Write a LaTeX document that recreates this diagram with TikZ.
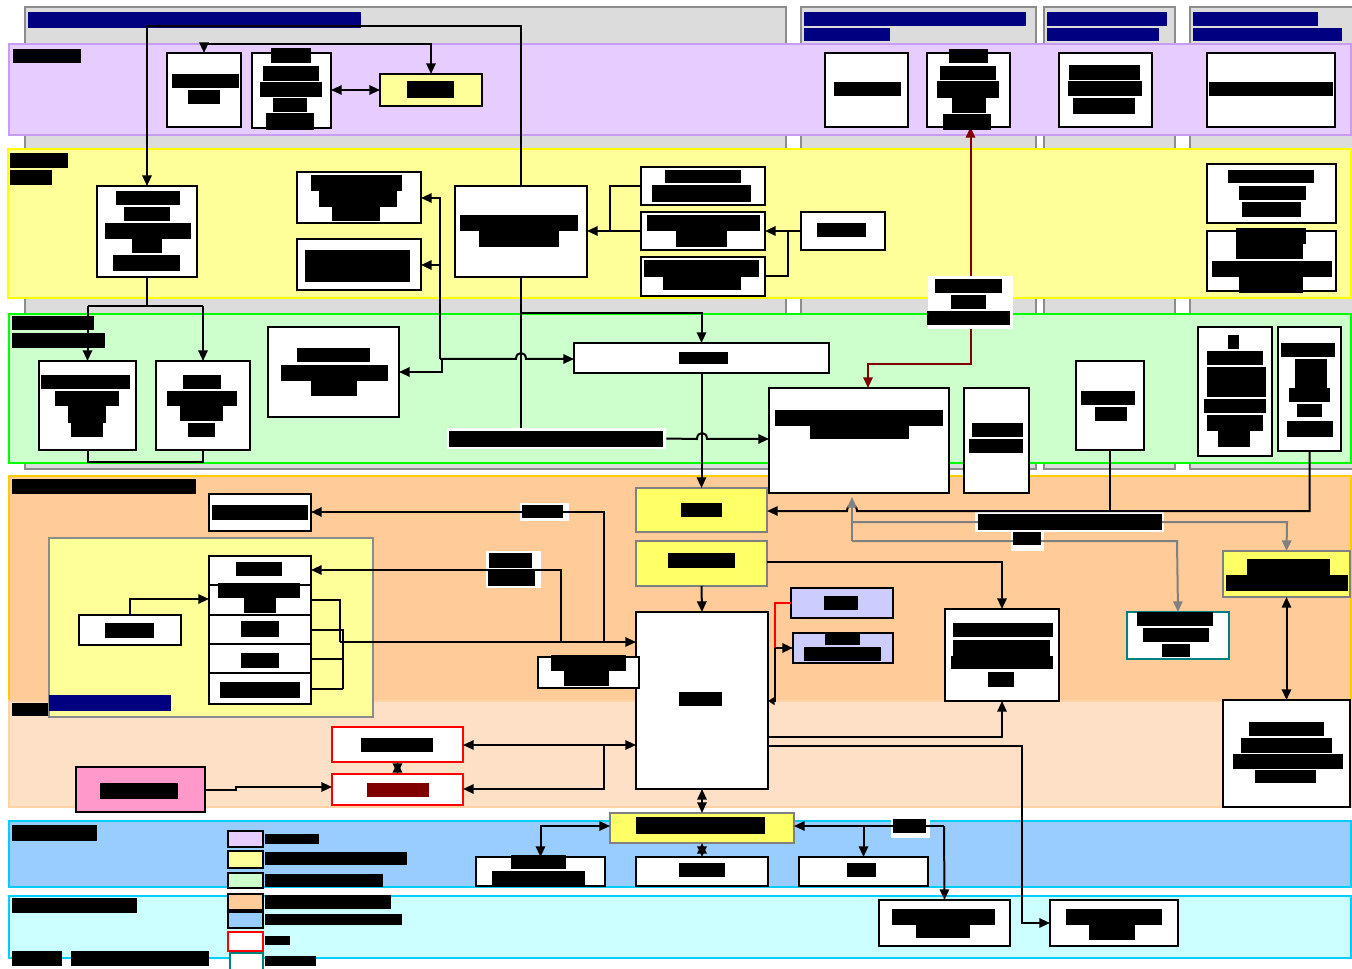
\documentclass[tikz,border=0pt]{standalone}
\usetikzlibrary{arrows.meta,fit}
\definecolor{navyc}{HTML}{000080}
\definecolor{colfill}{HTML}{DCDCDC}
\definecolor{colline}{HTML}{8C8C8C}
\definecolor{pfill}{HTML}{E6CCFF}
\definecolor{pline}{HTML}{C89BF5}
\definecolor{yfill}{HTML}{FFFF99}
\definecolor{yline}{HTML}{FFFF00}
\definecolor{gfill}{HTML}{CCFFCC}
\definecolor{gline}{HTML}{00FF00}
\definecolor{ofill}{HTML}{FFCC99}
\definecolor{oline}{HTML}{FFCC00}
\definecolor{pefill}{HTML}{FDE0C5}
\definecolor{peline}{HTML}{FFD2A6}
\definecolor{bfill}{HTML}{99CCFF}
\definecolor{bline}{HTML}{00CCFF}
\definecolor{cfill}{HTML}{CCFFFF}
\definecolor{ybox}{HTML}{FFFF66}
\definecolor{lav}{HTML}{CCCCFF}
\definecolor{pinkc}{HTML}{FF99CC}
\definecolor{dred}{HTML}{800000}
\definecolor{tealc}{HTML}{008080}
\definecolor{gconnc}{HTML}{808080}
\newcommand{\blk}[4]{\fill[black] (#1,#2) rectangle (#3,#4);}
\newcommand{\nvy}[4]{\fill[navyc] (#1,#2) rectangle (#3,#4);}
\newcommand{\bx}[6][]{\node[box,#1,fit={(#3,#4) (#5,#6)}] (#2) {};}
\tikzset{
 box/.style={draw=black,line width=1.9pt,fill=white,inner sep=0pt,outer sep=0pt},
 ygray/.style={draw=gconnc,fill=ybox},
 lbl/.style={draw=none,fill=white},
 colbox/.style={draw=colline,fill=colfill,line width=1.5pt},
 lanebox/.style={line width=2pt},
 conn/.style={draw=black,line width=1.5pt},
 gconn/.style={draw=gconnc,line width=1.5pt},
 rconn/.style={draw=dred,line width=1.5pt},
 tip/.style={-{Triangle[length=8pt,width=7pt]}},
 tipb/.style={{Triangle[length=8pt,width=7pt]}-{Triangle[length=8pt,width=7pt]}},
 tips/.style={-{Triangle[length=5pt,width=6pt]}},
 swatch/.style={draw=black,line width=1.8pt},
}
\begin{document}
\begin{tikzpicture}[x=0.75pt,y=-0.75pt]
\useasboundingbox (0,0) rectangle (1352,969);
\fill[white] (0,0) rectangle (1352,969);
% columns
\draw[colbox] (25,7) rectangle (786,469);
\draw[colbox] (801,7) rectangle (1036,469);
\draw[colbox] (1044,7) rectangle (1175,469);
\draw[colbox] (1190,7) rectangle (1362,469);
\nvy{28}{12}{361}{28}
\nvy{804}{12}{1026}{26} \nvy{804}{28}{890}{41}
\nvy{1047}{12}{1167}{26} \nvy{1047}{28}{1159}{41}
\nvy{1193}{12}{1318}{26} \nvy{1193}{28}{1342}{41}
% lanes
\draw[lanebox,draw=pline,fill=pfill] (9,44) rectangle (1351,135);
\draw[lanebox,draw=yline,fill=yfill] (8,149) rectangle (1351,298);
\draw[lanebox,draw=gline,fill=gfill] (9,314) rectangle (1351,463);
\draw[lanebox,draw=oline,fill=ofill] (9,476) rectangle (1351,701);
\draw[lanebox,draw=peline,fill=pefill] (9,701) rectangle (1351,807);
\draw[lanebox,draw=bline,fill=bfill] (9,821) rectangle (1351,887);
\draw[lanebox,draw=bline,fill=cfill] (9,896) rectangle (1351,958);
% lane labels
\blk{13}{49}{81}{63}
\blk{10}{153}{68}{168} \blk{10}{170}{52}{185}
\blk{12}{316}{94}{330} \blk{12}{333}{105}{348}
\blk{12}{479}{196}{494}
\blk{12}{703}{48}{716}
\blk{12}{825}{97}{841}
\blk{12}{898}{137}{913}
\blk{12}{951}{62}{966} \blk{71}{951}{209}{966}
% group box in orange lane
\draw[draw=colline,fill=yfill,line width=1.5pt] (49,538) rectangle (373,717);
\nvy{49}{695}{171}{711}

% ---------- purple lane nodes
\bx{P1}{167}{53}{241}{127}
\bx{P2}{252}{53}{331}{128}
\bx[fill=yfill]{Y1}{380}{74}{482}{106}
\bx{P3}{825}{53}{908}{127}
\bx{P4}{927}{53}{1010}{127}
\bx{P5}{1059}{53}{1152}{127}
\bx{P6}{1207}{53}{1335}{127}
% ---------- yellow lane nodes
\bx{Y2}{97}{186}{197}{277}
\bx{Y3}{297}{172}{421}{223}
\bx{Y4}{297}{239}{421}{290}
\bx{Y5}{455}{186}{587}{277}
\bx{Y6}{641}{167}{765}{205}
\bx{Y7}{641}{212}{765}{250}
\bx{Y8}{641}{257}{765}{296}
\bx{Y9}{801}{212}{885}{250}
\bx{YR1}{1207}{164}{1336}{223}
\bx{YR2}{1207}{231}{1336}{291}
% ---------- green lane nodes
\bx{G1a}{39}{361}{136}{450}
\bx{G1b}{156}{361}{250}{450}
\bx{G3}{268}{327}{399}{417}
\bx{G2}{574}{343}{829}{373}
\bx{G5}{769}{388}{949}{493}
\bx{G6}{964}{388}{1029}{493}
\bx{G7}{1076}{361}{1144}{450}
\bx{G8}{1198}{327}{1272}{456}
\bx{G9}{1278}{327}{1341}{451}
\node[lbl,inner sep=0pt,fit={(447,428) (666,449)}] (G4) {};
\node[lbl,inner sep=0pt,fit={(928,276) (1013,329)}] (RL) {};
% ---------- orange lane nodes
\bx[ygray]{Or1}{636}{488}{767}{532}
\bx[ygray]{Or2}{636}{541}{767}{586}
\bx{Om}{636}{612}{768}{789}
\bx{O1}{209}{494}{311}{531}
\bx{S1}{209}{556}{311}{585}
\bx{S2}{209}{585}{311}{615}
\bx{S3}{209}{615}{311}{644}
\bx{S4}{209}{644}{311}{673}
\bx{S5}{209}{673}{311}{704}
\bx{O2}{79}{615}{181}{645}
\bx{O3}{538}{657}{639}{688}
\bx[fill=lav]{B1}{791}{588}{893}{618}
\bx[fill=lav]{B2}{793}{633}{893}{663}
\bx{O4}{945}{609}{1059}{701}
\bx[draw=tealc]{T}{1127}{612}{1229}{659}
\bx[ygray]{Y10}{1223}{551}{1350}{597}
\bx{W}{1223}{700}{1350}{807}
\node[lbl,inner sep=0pt,fit={(520,503) (569,521)}] (LA) {};
\node[lbl,inner sep=0pt,fit={(486,551) (541,588)}] (LB) {};
\node[lbl,inner sep=0pt,fit={(975,512) (1164,532)}] (LG1) {};
\node[lbl,inner sep=0pt,fit={(1011,532) (1044,551)}] (LG2) {};
% ---------- peach lane nodes
\bx[draw=red]{R1}{332}{727}{463}{762}
\bx[draw=red]{R2}{332}{774}{463}{805}
\bx[fill=pinkc]{Pk}{76}{767}{205}{812}
% ---------- blue lane nodes
\bx[ygray]{Y11}{610}{813}{794}{843}
\bx{L1}{476}{857}{605}{886}
\bx{L2}{636}{857}{768}{886}
\bx{L3}{799}{857}{928}{886}
\node[lbl,inner sep=0pt,fit={(891,817) (930,838)}] (LC) {};
% ---------- cyan lane nodes
\bx{C1}{879}{900}{1010}{946}
\bx{C2}{1050}{900}{1178}{946}

% ---------- legend
\draw[swatch,fill=pfill] (228,831) rectangle (263,847);
\draw[swatch,fill=yfill] (228,851) rectangle (263,868);
\draw[swatch,fill=gfill] (228,873) rectangle (263,888);
\draw[swatch,fill=ofill] (228,894) rectangle (263,910);
\draw[swatch,fill=bfill] (228,912) rectangle (263,928);
\draw[swatch,draw=red,fill=white] (228,932) rectangle (263,951);
\draw[swatch,draw=tealc,fill=white] (230,953) rectangle (263,972);
\blk{265}{834}{319}{844}
\blk{265}{852}{407}{865}
\blk{265}{874}{383}{887}
\blk{265}{895}{391}{909}
\blk{265}{914}{402}{925}
\blk{265}{936}{290}{945}
\blk{265}{956}{316}{966}

% ---------- connectors
\draw[conn,tip] (Y5.north) -- (Y5.north |- 0,26) -| (Y2.north);
\draw[conn,tipb] (P1.north) -- (P1.north |- 0,44) -| (Y1.north);
\draw[conn,tipb] (P2.east |- 0,90) -- (Y1.west |- 0,90);
\draw[conn] (Y2.south) -- (Y2.south |- 0,306);
\draw[conn] (G1a.north |- 0,306) -- (G1b.north |- 0,306);
\draw[conn,tip] (G1a.north |- 0,306) -- (G1a.north);
\draw[conn,tip] (G1b.north |- 0,306) -- (G1b.north);
\draw[conn] (G1a.south) -- (G1a.south |- 0,462) -- (G1b.south |- 0,462) -- (G1b.south);
\draw[conn] (Y5.south) -- (Y5.south |- G4.north);
\draw[conn,tip] (Y5.south |- 0,313) -| (G2.north);
\coordinate (hub) at (440,359);
\draw[conn,tip] (hub) -- (440,198) -- (Y3.east |- 0,198);
\draw[conn,tip] (440,265) -- (Y4.east |- 0,265);
\draw[conn,tip] (hub) -- (442,359) -- (442,372) -- (G3.east |- 0,372);
\draw[conn,tip] (hub) -- (516,359) .. controls (516,351) and (526,351) .. (526,359) -- (G2.west |- 0,359);
\draw[conn] (Y6.west) -- (610,186) -- (610,231);
\draw[conn,tip] (Y7.west) -- (Y5.east |- Y7.west);
\draw[conn,tip] (Y9.west) -- (Y7.east);
\draw[conn] (788,231) |- (Y8.east);
\draw[rconn,tip] (RL.north) -- (RL.north |- P4.south);
\draw[rconn,tip] (RL.south) -- (RL.south |- 0,364) -| (G5.north -| 868,0);
\draw[conn,tip] (G4.east) -- (697,439) .. controls (697,431) and (707,431) .. (707,439) -- (G5.west |- 0,439);
\draw[conn,tip] (G2.south) -- (Or1.north);
\draw[conn,tip] (Or2.south) -- (Om.north);
\draw[conn] (G7.south) -- (G7.south |- 0,511);
\draw[conn,tip] (G9.south) -- (G9.south |- 0,511) -- (857,511) .. controls (857,503) and (847,503) .. (847,511) -- (Or1.east |- 0,511);
\draw[gconn,tip] (852,541) -- (852,497);
\draw[gconn] (852,541) -- (852,522);
\draw[gconn,tip] (852,541) -- (1177,541) -- (T.north);
\draw[gconn,tip] (852,522) -- (1287,522) -- (Y10.north);
\draw[conn,tip] (340,642) -- (Om.west |- 0,642);
\draw[conn,tip] (604,642) -- (604,512) -- (O1.east |- 0,512);
\draw[conn,tip] (561,642) -- (561,570) -- (S1.east |- 0,570);
\draw[conn] (S2.east) -- (340,600) -- (340,642);
\draw[conn] (S3.east) -- (343,629.5) -- (343,688.5);
\draw[conn] (S4.east) -- (343,658.5);
\draw[conn] (S5.east) -- (343,688.5);
\draw[conn,tip] (O2.north) -- (O2.north |- 0,599) -- (S2.west |- 0,599);
\draw[conn,tipb] (R1.east |- 0,745) -- (Om.west |- 0,745);
\draw[conn,tip] (604,745) -- (604,789) -- (R2.east |- 0,789);
\draw[conn,tipb] (R1.south) -- (R2.north);
\draw[conn,tip] (Pk.east |- 0,790) -- (236,790) -- (236,787) -- (R2.west |- 0,787);
\draw[conn,tip] (Or2.east |- 0,562) -| (O4.north);
\draw[conn,tip] (Om.east |- 0,737) -| (O4.south);
\draw[conn,tip] (Om.east |- 0,746) -- (1022,746) -- (1022,923) -- (C2.west |- 0,923);
\draw[line width=1.5pt,red] (B1.west) -- (775,603) -- (775,648);
\draw[conn,tip] (775,648) -- (B2.west |- 0,648);
\draw[conn] (775,648) -- (775,701);
\draw[conn,tips] (776,701) -- (Om.east |- 0,701);
\draw[conn,tipb] (Y10.south) -- (W.north);
\draw[conn,tipb] (Om.south) -- (Y11.north);
\draw[conn,tipb] (Y11.south) -- (L2.north);
\draw[conn,tipb] (L1.north) -- (L1.north |- 0,826) -- (Y11.west |- 0,826);
\coordinate (jn) at (944,826);
\draw[conn,tip] (jn) -- (Y11.east |- 0,826);
\draw[conn,tip] (L3.north |- 0,826) -- (L3.north);
\draw[conn,tip] (jn) -- (C1.north);

% ---------- label bars (text)
% purple
\blk{172}{74}{239}{88} \blk{188}{90}{220}{104}
\blk{271}{48}{311}{63} \blk{263}{66}{319}{81} \blk{260}{82}{322}{97} \blk{273}{98}{307}{112} \blk{266}{113}{314}{130}
\blk{407}{81}{454}{98}
\blk{834}{82}{901}{96}
\blk{949}{49}{988}{63} \blk{940}{66}{996}{80} \blk{937}{81}{999}{98} \blk{952}{98}{986}{113} \blk{943}{114}{991}{130}
\blk{1069}{65}{1140}{80} \blk{1068}{81}{1142}{96} \blk{1073}{98}{1135}{114}
\blk{1209}{82}{1333}{96}
% yellow
\blk{116}{191}{180}{205} \blk{124}{207}{170}{221} \blk{105}{223}{191}{239} \blk{132}{239}{162}{253} \blk{113}{255}{180}{271}
\blk{311}{175}{402}{191} \blk{319}{191}{397}{207} \blk{332}{207}{380}{221}
\blk{305}{250}{410}{282}
\blk{460}{215}{578}{231} \blk{479}{231}{559}{247}
\blk{665}{170}{741}{183} \blk{652}{185}{751}{202}
\blk{647}{215}{760}{231} \blk{676}{231}{727}{247}
\blk{644}{260}{759}{277} \blk{663}{277}{741}{290}
\blk{817}{223}{866}{237}
\blk{1228}{170}{1314}{183} \blk{1239}{186}{1306}{200} \blk{1242}{202}{1301}{217}
\blk{1236}{228}{1306}{244} \blk{1236}{244}{1303}{259} \blk{1212}{261}{1332}{277} \blk{1239}{277}{1303}{293}
\blk{935}{279}{1002}{293} \blk{951}{295}{986}{309} \blk{927}{311}{1010}{325}
% green
\blk{41}{375}{130}{389} \blk{55}{391}{119}{406} \blk{68}{406}{106}{423} \blk{71}{423}{103}{437}
\blk{183}{375}{221}{389} \blk{167}{391}{237}{406} \blk{180}{406}{223}{421} \blk{188}{423}{215}{437}
\blk{297}{348}{370}{362} \blk{281}{365}{388}{381} \blk{311}{381}{357}{396}
\blk{679}{352}{728}{364}
\blk{449}{431}{663}{447}
\blk{775}{410}{943}{426} \blk{810}{426}{909}{439}
\blk{972}{423}{1023}{437} \blk{969}{439}{1023}{453}
\blk{1081}{391}{1135}{405} \blk{1095}{407}{1127}{421}
\blk{1228}{335}{1239}{349} \blk{1207}{351}{1263}{365} \blk{1207}{367}{1266}{397} \blk{1204}{399}{1266}{413} \blk{1207}{415}{1263}{431} \blk{1218}{431}{1250}{447}
\blk{1281}{343}{1335}{357} \blk{1295}{359}{1327}{372} \blk{1295}{372}{1327}{388} \blk{1289}{388}{1330}{402} \blk{1297}{404}{1322}{417} \blk{1287}{421}{1333}{437}
% orange
\blk{681}{503}{722}{517}
\blk{668}{553}{735}{568}
\blk{679}{692}{722}{706}
\blk{212}{505}{308}{520}
\blk{236}{562}{282}{576}
\blk{218}{583}{300}{598} \blk{244}{598}{276}{613}
\blk{241}{621}{279}{637}
\blk{241}{653}{279}{668}
\blk{220}{682}{300}{698}
\blk{105}{623}{154}{638}
\blk{551}{655}{626}{671} \blk{564}{671}{609}{686}
\blk{522}{505}{563}{518}
\blk{489}{553}{532}{568} \blk{488}{570}{535}{586}
\blk{824}{596}{858}{610}
\blk{825}{632}{860}{645} \blk{804}{647}{881}{661}
\blk{953}{623}{1053}{637} \blk{953}{640}{1050}{656} \blk{951}{656}{1053}{669} \blk{988}{672}{1014}{687}
\blk{1137}{612}{1213}{626} \blk{1143}{628}{1209}{642} \blk{1162}{644}{1190}{657}
\blk{1247}{559}{1330}{575} \blk{1226}{575}{1348}{591}
\blk{1249}{722}{1324}{736} \blk{1241}{738}{1332}{753} \blk{1233}{754}{1343}{769} \blk{1255}{770}{1316}{783}
\blk{978}{514}{1162}{530}
\blk{1013}{532}{1041}{545}
% peach
\blk{361}{738}{433}{752}
\fill[dred] (367,783) rectangle (429,797);
\blk{100}{783}{178}{799}
% blue
\blk{636}{817}{765}{834}
\blk{511}{855}{566}{869} \blk{492}{871}{585}{886}
\blk{679}{863}{725}{877}
\blk{847}{863}{876}{877}
\blk{893}{819}{926}{833}
% cyan
\blk{892}{909}{995}{925} \blk{916}{925}{970}{938}
\blk{1066}{909}{1162}{925} \blk{1089}{925}{1135}{940}
\end{tikzpicture}
\end{document}
